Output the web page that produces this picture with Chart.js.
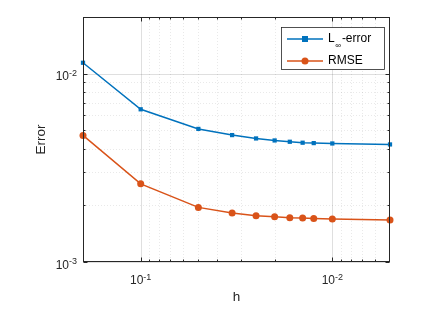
<!DOCTYPE html>
<html>
<head>
<meta charset="utf-8">
<script src="https://cdn.jsdelivr.net/npm/chart.js@4/dist/chart.umd.min.js"></script>
<style>
html,body{margin:0;padding:0;background:#fff;}
#wrap{width:433px;height:309px;position:relative;}
</style>
</head>
<body>
<div id="wrap"><canvas id="c" width="433" height="309"></canvas></div>
<script>
// ---- data ----
const hValues = [1/5, 1/10, 1/20, 1/30, 1/40, 1/50, 1/60, 1/70, 1/80, 1/100, 1/200];
const linfError = [0.01143, 0.00647, 0.00509, 0.00472, 0.00453, 0.00442, 0.00435, 0.00430, 0.00428, 0.00426, 0.00421];
const rmseError = [0.00470, 0.00260, 0.00195, 0.00182, 0.00176, 0.00174, 0.00172, 0.00171, 0.00170, 0.00169, 0.00167];
const seriesLabels = ['L∞-error', 'RMSE'];
const xMajorTicks = [0.1, 0.01];
const xTickExponents = ['-1', '-2'];
const yMajorTicks = [0.01, 0.001];
const yTickExponents = ['-2', '-3'];
const xTitle = 'h';
const yTitle = 'Error';

const AX = '#262626';
const FONT = '"Liberation Sans", Arial, Helvetica, sans-serif';

function minorVals(lo, hi) {
  const out = [];
  for (let e = -5; e <= 1; e++) {
    for (let m = 2; m <= 9; m++) {
      const v = m * Math.pow(10, e);
      if (v > lo * 1.0001 && v < hi * 0.9999) out.push(v);
    }
  }
  return out;
}

const axesPlugin = {
  id: 'matlabAxes',
  beforeDatasetsDraw(chart) {
    const ctx = chart.ctx, a = chart.chartArea;
    const xs = chart.scales.x, ys = chart.scales.y;
    ctx.save();
    // minor grid
    ctx.strokeStyle = 'rgba(38,38,38,0.13)';
    ctx.lineWidth = 0.8;
    ctx.setLineDash([1, 2]);
    minorVals(xs.min, xs.max).forEach(v => {
      const p = Math.round(xs.getPixelForValue(v)) + 0.5;
      ctx.beginPath(); ctx.moveTo(p, a.top); ctx.lineTo(p, a.bottom); ctx.stroke();
    });
    minorVals(ys.min, ys.max).forEach(v => {
      const p = Math.round(ys.getPixelForValue(v)) + 0.5;
      ctx.beginPath(); ctx.moveTo(a.left, p); ctx.lineTo(a.right, p); ctx.stroke();
    });
    // major grid
    ctx.setLineDash([]);
    ctx.strokeStyle = 'rgba(38,38,38,0.15)';
    ctx.lineWidth = 1;
    xMajorTicks.forEach(v => {
      const p = Math.round(xs.getPixelForValue(v)) + 0.5;
      ctx.beginPath(); ctx.moveTo(p, a.top); ctx.lineTo(p, a.bottom); ctx.stroke();
    });
    yMajorTicks.forEach(v => {
      const p = Math.round(ys.getPixelForValue(v)) + 0.5;
      ctx.beginPath(); ctx.moveTo(a.left, p); ctx.lineTo(a.right, p); ctx.stroke();
    });
    ctx.restore();
  },
  afterDatasetsDraw(chart) {
    const ctx = chart.ctx, a = chart.chartArea;
    const xs = chart.scales.x, ys = chart.scales.y;
    ctx.save();
    // box
    ctx.strokeStyle = AX;
    ctx.lineWidth = 1;
    const L = Math.round(a.left) + 0.5, R = Math.round(a.right) - 0.5;
    const T = Math.round(a.top) + 0.5, B = Math.round(a.bottom) - 0.5;
    ctx.strokeRect(L, T, R - L, B - T);
    // ticks
    ctx.beginPath();
    xMajorTicks.forEach(v => {
      const p = Math.round(xs.getPixelForValue(v)) + 0.5;
      ctx.moveTo(p, B); ctx.lineTo(p, B - 4);
      ctx.moveTo(p, T); ctx.lineTo(p, T + 4);
    });
    minorVals(xs.min, xs.max).forEach(v => {
      const p = Math.round(xs.getPixelForValue(v)) + 0.5;
      ctx.moveTo(p, B); ctx.lineTo(p, B - 2);
      ctx.moveTo(p, T); ctx.lineTo(p, T + 2);
    });
    yMajorTicks.forEach(v => {
      const p = Math.round(ys.getPixelForValue(v)) + 0.5;
      ctx.moveTo(L, p); ctx.lineTo(L + 4, p);
      ctx.moveTo(R, p); ctx.lineTo(R - 4, p);
    });
    minorVals(ys.min, ys.max).forEach(v => {
      const p = Math.round(ys.getPixelForValue(v)) + 0.5;
      ctx.moveTo(L, p); ctx.lineTo(L + 2, p);
      ctx.moveTo(R, p); ctx.lineTo(R - 2, p);
    });
    ctx.stroke();

    // tick labels
    ctx.fillStyle = AX;
    ctx.textBaseline = 'alphabetic';
    const baseFont = '12px ' + FONT, supFont = '9px ' + FONT;
    xMajorTicks.forEach((v, i) => {
      const p = xs.getPixelForValue(v);
      ctx.font = baseFont; const w1 = ctx.measureText('10').width;
      ctx.font = supFont; const w2 = ctx.measureText(xTickExponents[i]).width;
      const x0 = p - (w1 + w2) / 2;
      ctx.font = baseFont; ctx.textAlign = 'left';
      ctx.fillText('10', x0, a.bottom + 22);
      ctx.font = supFont;
      ctx.fillText(xTickExponents[i], x0 + w1, a.bottom + 17.5);
    });
    yMajorTicks.forEach((v, i) => {
      const p = ys.getPixelForValue(v);
      ctx.font = supFont; const w2 = ctx.measureText(yTickExponents[i]).width;
      ctx.font = baseFont; const w1 = ctx.measureText('10').width;
      const xr = a.left - 6;
      ctx.textAlign = 'left';
      ctx.fillText('10', xr - w2 - w1, p + 6.5);
      ctx.font = supFont;
      ctx.fillText(yTickExponents[i], xr - w2, p + 2);
    });
    // axis titles
    ctx.font = '13.5px ' + FONT;
    ctx.textAlign = 'center';
    ctx.textBaseline = 'middle';
    ctx.fillText(xTitle, (a.left + a.right) / 2, 297.5);
    ctx.save();
    ctx.translate(41, (a.top + a.bottom) / 2);
    ctx.rotate(-Math.PI / 2);
    ctx.fillText(yTitle, 0, 0);
    ctx.restore();

    // legend
    const bx = 281.5, by = 27.5, bw = 103, bh = 42;
    ctx.fillStyle = '#fff';
    ctx.fillRect(bx, by, bw, bh);
    ctx.strokeStyle = AX;
    ctx.lineWidth = 0.8;
    ctx.strokeRect(bx, by, bw, bh);
    const rows = [39, 61];
    chart.data.datasets.forEach((ds, i) => {
      const y = rows[i];
      ctx.strokeStyle = ds.borderColor;
      ctx.lineWidth = 1.5;
      ctx.beginPath(); ctx.moveTo(287, y); ctx.lineTo(323, y); ctx.stroke();
      ctx.fillStyle = ds.borderColor;
      if (ds.pointStyle === 'rect') {
        ctx.fillRect(305 - 3, y - 3, 6, 6);
      } else {
        ctx.beginPath(); ctx.arc(305, y, 3.5, 0, Math.PI * 2); ctx.fill();
      }
      ctx.fillStyle = '#000';
      ctx.textAlign = 'left';
      ctx.textBaseline = 'middle';
      const label = ds.label;
      if (label.startsWith('L∞')) {
        ctx.font = '12px ' + FONT;
        ctx.fillText('L', 328, y);
        const wL = ctx.measureText('L').width;
        ctx.font = '8px ' + FONT;
        ctx.fillText('∞', 328 + wL + 0.5, y + 6.5);
        const wI = ctx.measureText('∞').width;
        ctx.font = '12px ' + FONT;
        ctx.fillText(label.slice(2), 328 + wL + 0.5 + wI + 1, y);
      } else {
        ctx.font = '12px ' + FONT;
        ctx.fillText(label, 328, y);
      }
    });
    ctx.restore();
  }
};

new Chart(document.getElementById('c'), {
  type: 'line',
  data: {
    datasets: [
      {
        label: seriesLabels[0],
        data: hValues.map((h, i) => ({ x: h, y: linfError[i] })),
        borderColor: '#0072BD',
        backgroundColor: '#0072BD',
        borderWidth: 1.5,
        pointStyle: 'rect',
        pointRadius: 3,
        pointBorderWidth: 0,
        tension: 0,
        fill: false,
        clip: false
      },
      {
        label: seriesLabels[1],
        data: hValues.map((h, i) => ({ x: h, y: rmseError[i] })),
        borderColor: '#D95319',
        backgroundColor: '#D95319',
        borderWidth: 1.5,
        pointStyle: 'circle',
        pointRadius: 3.5,
        pointBorderWidth: 0,
        tension: 0,
        fill: false,
        clip: false
      }
    ]
  },
  options: {
    responsive: false,
    animation: false,
    devicePixelRatio: 1,
    layout: { padding: { left: 83, right: 43, top: 17, bottom: 47 } },
    plugins: { legend: { display: false }, tooltip: { enabled: false } },
    scales: {
      x: { type: 'logarithmic', min: 0.005, max: 0.2, reverse: true, display: false },
      y: { type: 'logarithmic', min: 0.001, max: 0.02, display: false }
    }
  },
  plugins: [axesPlugin]
});
</script>
</body>
</html>
